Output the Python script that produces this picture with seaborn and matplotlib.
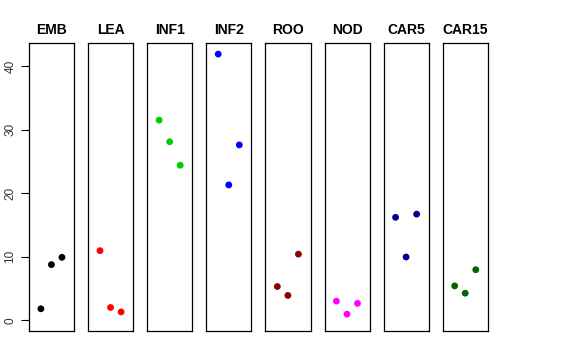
import pandas as pd
import seaborn as sns
import matplotlib.pyplot as plt

# tissues and their replicate values
tissues = ["EMB", "LEA", "INF1", "INF2", "ROO", "NOD", "CAR5", "CAR15"]
colors = ["black", "red", "#00cd00", "blue", "#8b0000", "magenta", "#00008b", "#006400"]
replicate = [1, 2, 3]
values = {
    "EMB": [1.8, 8.75, 9.9],
    "LEA": [10.95, 2.0, 1.3],
    "INF1": [31.5, 28.1, 24.4],
    "INF2": [41.9, 21.3, 27.6],
    "ROO": [5.3, 3.9, 10.4],
    "NOD": [3.0, 0.95, 2.65],
    "CAR5": [16.2, 9.95, 16.7],
    "CAR15": [5.4, 4.25, 7.95],
}

sns.set_style("white")
plt.rcParams['font.family'] = ['Liberation Sans', 'DejaVu Sans']
plt.rcParams['text.color'] = 'black'
plt.rcParams['ytick.color'] = 'black'
plt.rcParams['ytick.labelcolor'] = '#333333'

fig, axes = plt.subplots(1, len(tissues), figsize=(5.76, 3.6), dpi=100, sharey=True)
fig.subplots_adjust(left=0.0503, right=0.847, top=0.8797, bottom=0.0806, wspace=0.31)

for i, (ax, t) in enumerate(zip(axes, tissues)):
    df = pd.DataFrame({"rep": replicate, "val": values[t]})
    sns.scatterplot(data=df, x="rep", y="val", ax=ax, color=colors[i], s=24,
                    edgecolor="none", legend=False)
    ax.set_xlim(-0.13, 4.15)
    ax.set_ylim(-1.7, 43.6)
    ax.set_xticks([])
    ax.set_xlabel("")
    ax.set_ylabel("")
    ax.set_title(t, fontsize=10, fontweight="bold", pad=7, color="black")
    for sp in ax.spines.values():
        sp.set_visible(True)
        sp.set_color("black")
        sp.set_linewidth(0.9)
    if i == 0:
        ax.set_yticks([0, 10, 20, 30, 40])
        ax.tick_params(axis="y", left=True, length=6, width=0.8, labelsize=8.5, pad=3)
        for lab in ax.get_yticklabels():
            lab.set_rotation(90)
            lab.set_va("center")
    else:
        ax.tick_params(axis="y", left=False, labelleft=False)

plt.savefig("out.png", dpi=100)
plt.close()
